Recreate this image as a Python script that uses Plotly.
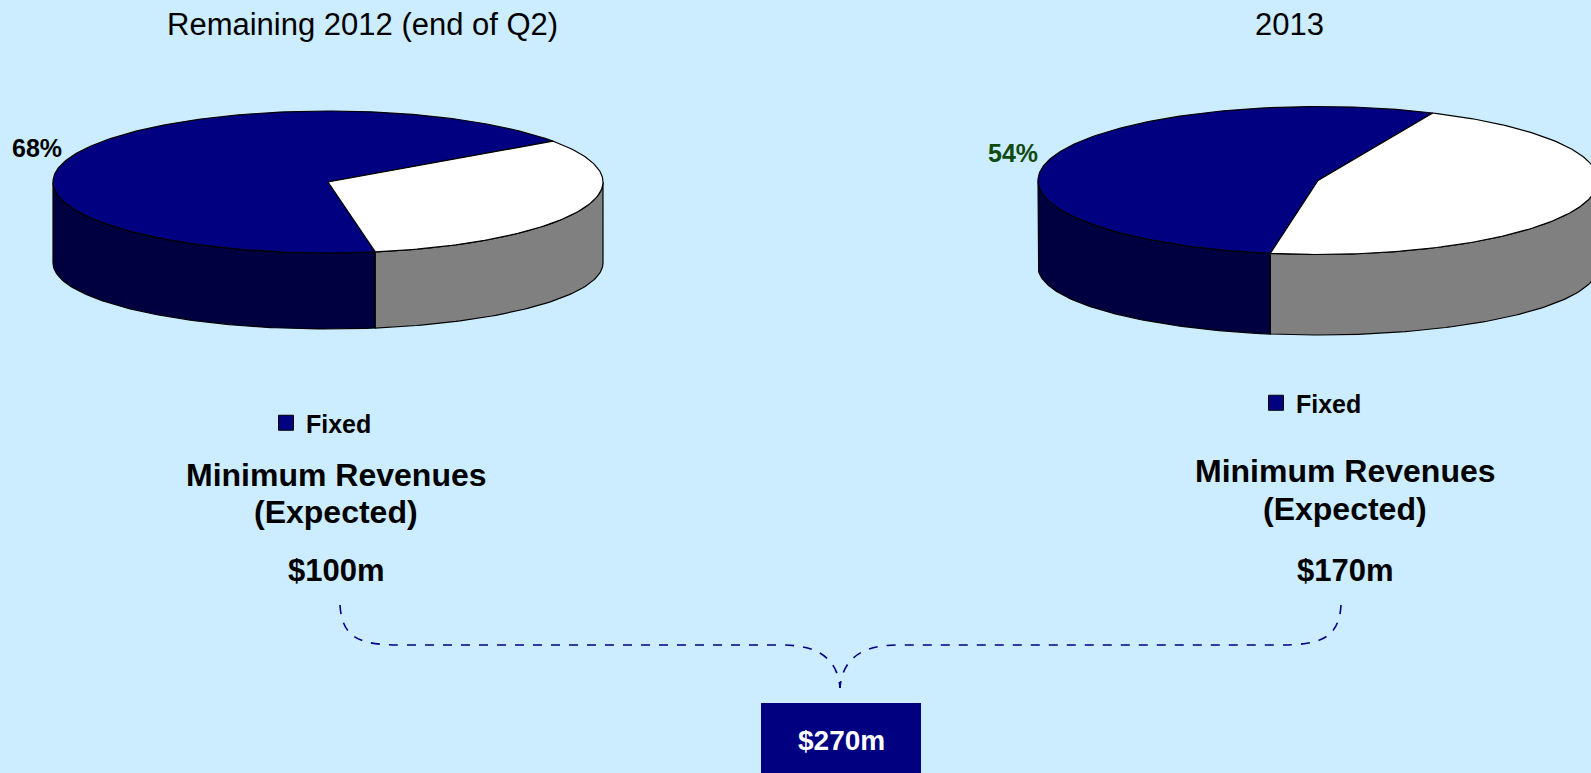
import numpy as np
import plotly.graph_objects as go

# ---------------- data ----------------
titles = ["Remaining 2012 (end of Q2)", "2013"]
categories = ["Fixed", "Variable"]
fixed_pct = [68, 54]
revenues_musd = [100, 170]
pct_label_colors = ["#000000", "#0f4a0f"]
subtitle_lines = ["Minimum Revenues", "(Expected)"]

# ---------------- style ----------------
W, H = 1591, 773
BG = "#CCECFF"
NAVY = "#000080"
FONT = "Liberation Sans, Arial, sans-serif"
TOP_COLORS = {"Fixed": "#000080", "Variable": "#FFFFFF"}
SIDE_COLORS = {"Fixed": "#000040", "Variable": "#808080"}

# pixel geometry of the two 3-D pies (top ellipse, bottom ellipse, rotation)
pies = [
    dict(cx=328, cy=182, rx=275, ry=71, cyb=263, ryb=66, start=80.1),
    dict(cx=1318, cy=180.5, rx=280, ry=74, cyb=267, ryb=68, start=99.8),
]
text_pos = [
    dict(tx=362, ty=24, mx=336, m1=475, m2=512, vy=570, lx=266, ly=423),
    dict(tx=1289, ty=24, mx=1345, m1=471, m2=509, vy=570, lx=1256, ly=403),
]


def arc(cx, cy, rx, ry, t0, t1):
    n = max(2, int(abs(t1 - t0)) + 2)
    t = np.radians(np.linspace(t0, t1, n))
    return cx + rx * np.cos(t), cy + ry * np.sin(t)


fig = go.Figure()

for i, p in enumerate(pies):
    shares = [fixed_pct[i], 100 - fixed_pct[i]]
    bounds = []
    a = p["start"]
    for s in shares:
        bounds.append((a, a + 3.6 * s))
        a += 3.6 * s

    # side faces (front half, 0..180 deg, screen clockwise)
    for cat, (a0, a1) in zip(categories, bounds):
        for k in range(-1, 3):
            lo, hi = max(a0, 360 * k), min(a1, 360 * k + 180)
            if hi > lo:
                xt, yt = arc(p["cx"], p["cy"], p["rx"], p["ry"], lo, hi)
                xb, yb = arc(p["cx"], p["cyb"], p["rx"], p["ryb"], hi, lo)
                fig.add_trace(go.Scatter(
                    x=np.concatenate([xt, xb, xt[:1]]),
                    y=np.concatenate([yt, yb, yt[:1]]),
                    mode="lines", fill="toself", fillcolor=SIDE_COLORS[cat],
                    line=dict(color="black", width=1.2),
                    hoverinfo="skip", showlegend=False))

    # top faces
    for cat, (a0, a1), s in zip(categories, bounds, shares):
        xa, ya = arc(p["cx"], p["cy"], p["rx"], p["ry"], a0, a1)
        fig.add_trace(go.Scatter(
            x=np.concatenate([[p["cx"]], xa, [p["cx"]]]),
            y=np.concatenate([[p["cy"]], ya, [p["cy"]]]),
            mode="lines", fill="toself", fillcolor=TOP_COLORS[cat],
            line=dict(color="black", width=1.2),
            name=cat, text=f"{s}%", hoverinfo="name+text", showlegend=False))

    # percentage label for the Fixed slice
    a0, a1 = bounds[0]
    mid = np.radians((a0 + a1) / 2)
    fig.add_annotation(
        x=p["cx"] + 1.04 * p["rx"] * np.cos(mid),
        y=p["cy"] + 1.25 * p["ry"] * np.sin(mid),
        text=f"<b>{fixed_pct[i]}%</b>", showarrow=False,
        xanchor="right", yanchor="middle",
        font=dict(family=FONT, size=25, color=pct_label_colors[i]))

    # legend entry "Fixed"
    fig.add_trace(go.Scatter(
        x=[None], y=[None], mode="markers", name=f"<b>{categories[0]}</b>",
        marker=dict(symbol="square", size=15, color=TOP_COLORS["Fixed"],
                    line=dict(color="black", width=1)),
        legend="legend" if i == 0 else "legend2", showlegend=True))

    tp = text_pos[i]
    fig.add_annotation(x=tp["tx"], y=tp["ty"], text=titles[i], showarrow=False,
                       font=dict(family=FONT, size=31, color="black"))
    fig.add_annotation(x=tp["mx"], y=tp["m1"], text=f"<b>{subtitle_lines[0]}</b>",
                       showarrow=False, font=dict(family=FONT, size=32, color="black"))
    fig.add_annotation(x=tp["mx"], y=tp["m2"], text=f"<b>{subtitle_lines[1]}</b>",
                       showarrow=False, font=dict(family=FONT, size=32, color="black"))
    fig.add_annotation(x=tp["mx"], y=tp["vy"], text=f"<b>${revenues_musd[i]}m</b>",
                       showarrow=False, font=dict(family=FONT, size=31, color="black"))

# brace joining the two totals
brace = dict(type="path", xref="x", yref="y",
             line=dict(color=NAVY, width=1.6, dash="dash"))
fig.add_shape(path="M 340,605 C 342,640 362,645 402,645 L 782,645 "
                   "C 822,645 838,662 840,688", **brace)
fig.add_shape(path="M 1341,605 C 1339,640 1318,645 1278,645 L 898,645 "
                   "C 858,645 842,662 840,688", **brace)

# total box
fig.add_shape(type="rect", xref="x", yref="y", x0=761, x1=921, y0=703, y1=790,
              fillcolor=NAVY, line=dict(width=0))
fig.add_annotation(x=841, y=740, text=f"<b>${sum(revenues_musd)}m</b>",
                   showarrow=False, font=dict(family=FONT, size=28, color="white"))

leg_common = dict(xanchor="left", yanchor="middle", bgcolor="rgba(0,0,0,0)",
                  borderwidth=0, font=dict(family=FONT, size=25, color="black"))
fig.update_layout(
    width=W, height=H, autosize=False,
    margin=dict(l=0, r=0, t=0, b=0),
    paper_bgcolor=BG, plot_bgcolor=BG,
    xaxis=dict(range=[0, W], visible=False, fixedrange=True),
    yaxis=dict(range=[H, 0], visible=False, fixedrange=True),
    legend=dict(x=text_pos[0]["lx"] / W, y=1 - text_pos[0]["ly"] / H, **leg_common),
    legend2=dict(x=text_pos[1]["lx"] / W, y=1 - text_pos[1]["ly"] / H, **leg_common),
)

fig.write_html("out.html", config={"displayModeBar": False})
